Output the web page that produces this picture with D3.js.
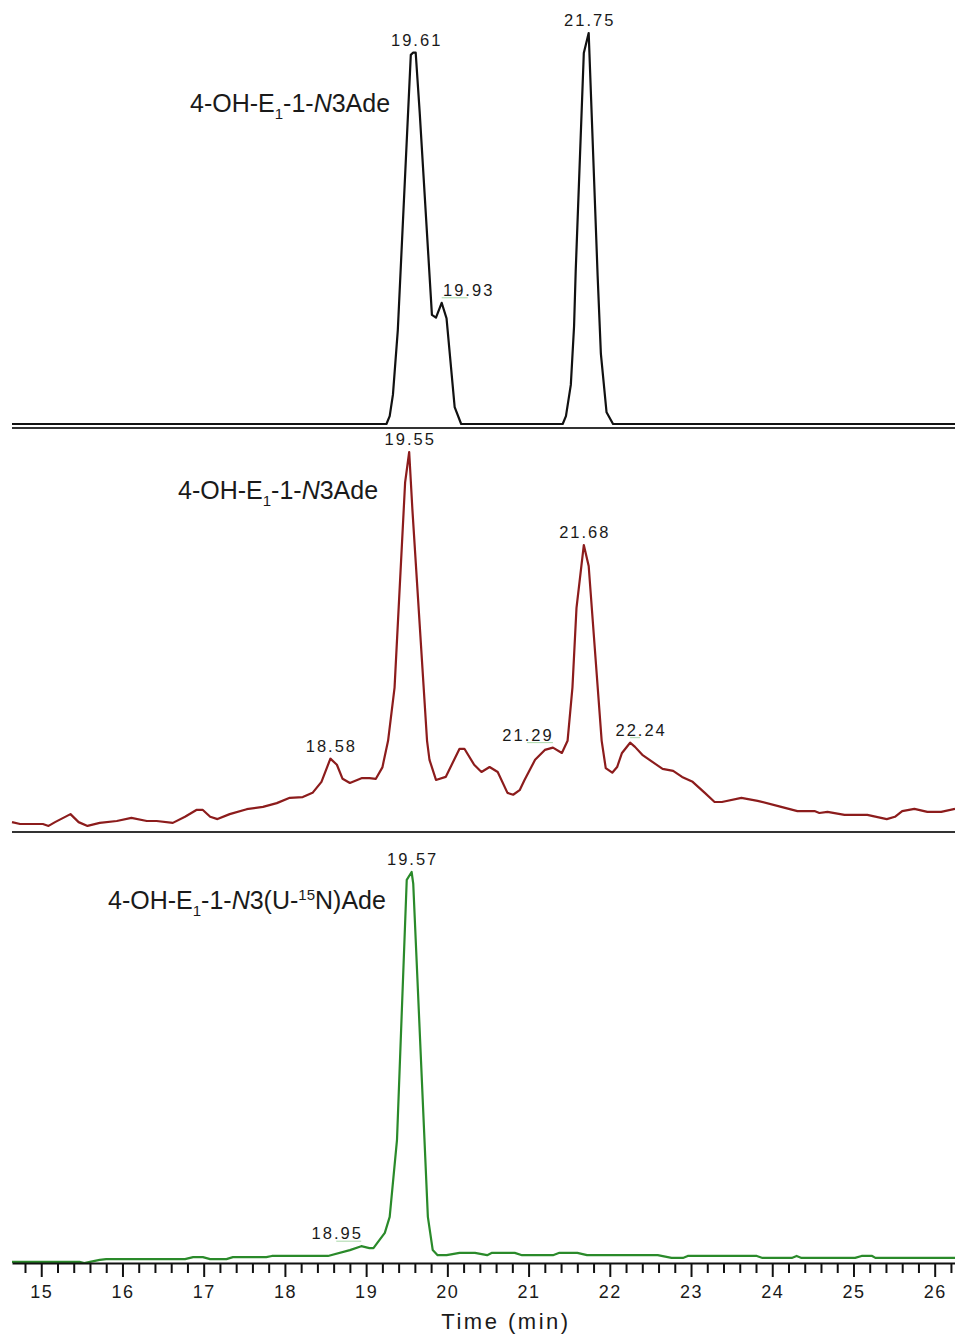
<!DOCTYPE html>
<html>
<head>
<meta charset="utf-8">
<script src="https://cdn.jsdelivr.net/npm/d3@7/dist/d3.min.js"></script>
<style>
  body { margin: 0; background: #fff; }
  text { font-family: "Liberation Sans", Arial, sans-serif; fill: #1a1a1a; }
  .peak-label { font-size: 16.5px; letter-spacing: 2px; }
  .trace-title { font-size: 25px; }
  .axis text { font-size: 18px; letter-spacing: 1.5px; }
</style>
</head>
<body>
<div id="chart"></div>
<script>
// ---- data (retention time in min, relative intensity in %) ----
const topTime = [14.64, 19.25, 19.29, 19.33, 19.39, 19.55, 19.58, 19.61, 19.66, 19.81, 19.86, 19.93, 19.99, 20.09, 20.17,
  21.42, 21.46, 21.52, 21.56, 21.58, 21.68, 21.74, 21.85, 21.89, 21.96, 22.04, 26.25];
const topInt = [0, 0, 2, 7.5, 24, 94.4, 95, 95, 79.5, 27.9, 27.2, 31, 27, 4.3, 0,
  0, 2, 10, 25, 39, 94.9, 100, 38, 18, 3, 0, 0];

const midTime = [14.64, 14.74, 15.02, 15.09, 15.17, 15.36, 15.46, 15.57, 15.72, 15.93, 16.11, 16.30, 16.42, 16.62, 16.77,
  16.91, 16.99, 17.08, 17.17, 17.32, 17.53, 17.73, 17.90, 18.06, 18.22, 18.34, 18.45, 18.56, 18.64, 18.71, 18.80,
  18.95, 19.04, 19.12, 19.20, 19.27, 19.35, 19.48, 19.53, 19.57, 19.75, 19.78, 19.86, 19.98, 20.15, 20.21, 20.33,
  20.42, 20.52, 20.62, 20.74, 20.81, 20.89, 20.95, 21.08, 21.20, 21.30, 21.41, 21.48, 21.54, 21.59, 21.68, 21.74,
  21.90, 21.95, 22.03, 22.09, 22.15, 22.25, 22.31, 22.40, 22.52, 22.65, 22.78, 22.89, 23.02, 23.17, 23.29, 23.38,
  23.62, 23.82, 24.11, 24.31, 24.52, 24.58, 24.68, 24.89, 25.17, 25.41, 25.51, 25.60, 25.75, 25.91, 26.08, 26.25];
const midInt = [2.6, 2.1, 2.1, 1.6, 2.6, 4.7, 2.6, 1.6, 2.4, 2.9, 3.7, 2.9, 2.9, 2.4, 4.0,
  5.8, 5.8, 4.0, 3.4, 4.7, 6.0, 6.6, 7.6, 9.0, 9.2, 10.3, 13.2, 19.3, 17.7, 14.0, 12.9,
  14.2, 14.2, 14.0, 17.0, 24, 38, 92, 100, 84.7, 24, 19, 13.7, 14.5, 21.9, 21.9, 17.7,
  15.8, 17.1, 15.8, 10.3, 9.8, 11.0, 13.7, 19.0, 21.6, 22.2, 20.8, 24, 38, 59, 75.5, 70,
  24, 16.8, 15.6, 17.1, 20.8, 23.5, 22.4, 20.3, 18.5, 16.6, 16.1, 14.5, 13.2, 10.3, 7.9, 7.9,
  9.0, 8.2, 6.6, 5.5, 5.5, 5.0, 5.3, 4.5, 4.5, 3.4, 4.0, 5.5, 6.1, 5.3, 5.3, 6.1];

const botTime = [14.64, 15.47, 15.53, 15.60, 15.72, 15.80, 16.77, 16.87, 16.99, 17.08, 17.28, 17.36, 17.77, 17.84, 18.53,
  18.80, 18.94, 19.04, 19.09, 19.14, 19.23, 19.29, 19.38, 19.50, 19.56, 19.58, 19.76, 19.82, 19.88, 19.99, 20.15,
  20.34, 20.49, 20.55, 20.83, 20.92, 21.30, 21.38, 21.60, 21.72, 22.59, 22.76, 22.90, 22.96, 23.81, 23.88, 24.24,
  24.30, 24.36, 25.02, 25.10, 25.23, 25.27, 26.25];
const botInt = [0.3, 0.3, 0, 0.3, 0.8, 1.0, 1.0, 1.5, 1.5, 1.0, 1.0, 1.5, 1.5, 1.8, 1.8,
  3.3, 4.3, 3.8, 3.8, 5.2, 7.7, 11.8, 31.5, 98, 100, 97, 11.8, 3.3, 2.0, 2.0, 2.6,
  2.6, 2.0, 2.6, 2.6, 2.0, 2.0, 2.6, 2.6, 2.0, 2.0, 1.3, 1.3, 1.8, 1.8, 1.3, 1.3,
  1.8, 1.3, 1.3, 1.8, 1.8, 1.3, 1.3];

// peak annotations: [label, time, intensity]
const topPeaks = [["19.61", 19.61, 95], ["19.93", 19.93, 31], ["21.75", 21.74, 100]];
const midPeaks = [["19.55", 19.53, 100], ["18.58", 18.56, 19.3], ["21.29", 21.30, 22.2], ["21.68", 21.68, 75.5], ["22.24", 22.25, 23.5]];
const botPeaks = [["19.57", 19.56, 100], ["18.95", 18.94, 4.3]];

const xTicks = [15, 16, 17, 18, 19, 20, 21, 22, 23, 24, 25, 26];
const xDomain = [14.64, 26.25];

// ---- layout ----
const W = 955, H = 1334;
const svg = d3.select("#chart").append("svg")
  .attr("width", W).attr("height", H);

const x = d3.scaleLinear().domain(xDomain).range([12, 955]);

const panels = [
  {time: topTime, inten: topInt, peaks: topPeaks, color: "#111111", y0: 424, y1: 33, sep: 428,
    title: {x: 190, y: 112, sup: null}, shift: {"19.93": 26}},
  {time: midTime, inten: midInt, peaks: midPeaks, color: "#8c1c1c", y0: 832, y1: 452, sep: 832,
    title: {x: 178, y: 499, sup: null}, shift: {"21.29": -26, "22.24": 10}},
  {time: botTime, inten: botInt, peaks: botPeaks, color: "#2a8a2a", y0: 1263, y1: 872, sep: null,
    title: {x: 108, y: 909, sup: "15"}, shift: {"18.95": -25}}
];

panels.forEach(p => {
  const y = d3.scaleLinear().domain([0, 100]).range([p.y0, p.y1]);
  const g = svg.append("g");

  // separator line under each trace
  if (p.sep !== null) {
    g.append("line")
      .attr("x1", 12).attr("x2", W)
      .attr("y1", p.sep).attr("y2", p.sep)
      .attr("stroke", "#333").attr("stroke-width", 2);
  }

  const line = d3.line()
    .x((d, i) => x(p.time[i]))
    .y(d => y(d));

  g.append("path")
    .datum(p.inten)
    .attr("d", line)
    .attr("fill", "none")
    .attr("stroke", p.color)
    .attr("stroke-width", 2.2)
    .attr("stroke-linejoin", "round");

  // peak labels
  p.peaks.forEach(pk => {
    const dx = p.shift[pk[0]] || 0;
    const px = x(pk[1]), py = y(pk[2]);
    if (dx !== 0) {
      // faint leader under the shifted labels
      g.append("line")
        .attr("x1", dx > 0 ? px : px + dx).attr("x2", dx > 0 ? px + dx : px)
        .attr("y1", py - 5).attr("y2", py - 5)
        .attr("stroke", "#a8d8a8").attr("stroke-width", 1);
    }
    g.append("text")
      .attr("class", "peak-label")
      .attr("x", px + dx + 1)
      .attr("y", py - 7)
      .attr("text-anchor", "middle")
      .text(pk[0]);
  });

  // compound name
  const t = g.append("text")
    .attr("class", "trace-title")
    .attr("x", p.title.x)
    .attr("y", p.title.y);
  t.append("tspan").text("4-OH-E");
  t.append("tspan").attr("dy", 7).attr("font-size", 15).text("1");
  t.append("tspan").attr("dy", -7).text("-1-");
  t.append("tspan").attr("font-style", "italic").text("N");
  if (p.title.sup) {
    t.append("tspan").text("3(U-");
    t.append("tspan").attr("dy", -9).attr("font-size", 15).text(p.title.sup);
    t.append("tspan").attr("dy", 9).text("N)Ade");
  } else {
    t.append("tspan").text("3Ade");
  }
});

// ---- x axis ----
const axisY = 1263;
const minor = d3.range(14.8, 26.3, 0.2).filter(v => Math.abs(v - Math.round(v)) > 0.01);

svg.append("g")
  .attr("transform", `translate(0,${axisY})`)
  .call(d3.axisBottom(x).tickValues(minor).tickSize(10).tickFormat(""))
  .call(g => g.select(".domain").remove())
  .selectAll("line").attr("stroke", "#111").attr("stroke-width", 2);

const ax = svg.append("g")
  .attr("class", "axis")
  .attr("transform", `translate(0,${axisY})`)
  .call(d3.axisBottom(x).tickValues(xTicks).tickSize(14).tickPadding(8).tickSizeOuter(0).tickFormat(d3.format("d")));
ax.select(".domain").attr("stroke", "#111").attr("stroke-width", 2);
ax.selectAll("line").attr("stroke", "#111").attr("stroke-width", 2);
ax.selectAll("text").attr("fill", "#1a1a1a");

svg.append("text")
  .attr("x", 506)
  .attr("y", 1329)
  .attr("text-anchor", "middle")
  .attr("font-size", 22)
  .attr("letter-spacing", "2.5px")
  .text("Time (min)");
</script>
</body>
</html>
